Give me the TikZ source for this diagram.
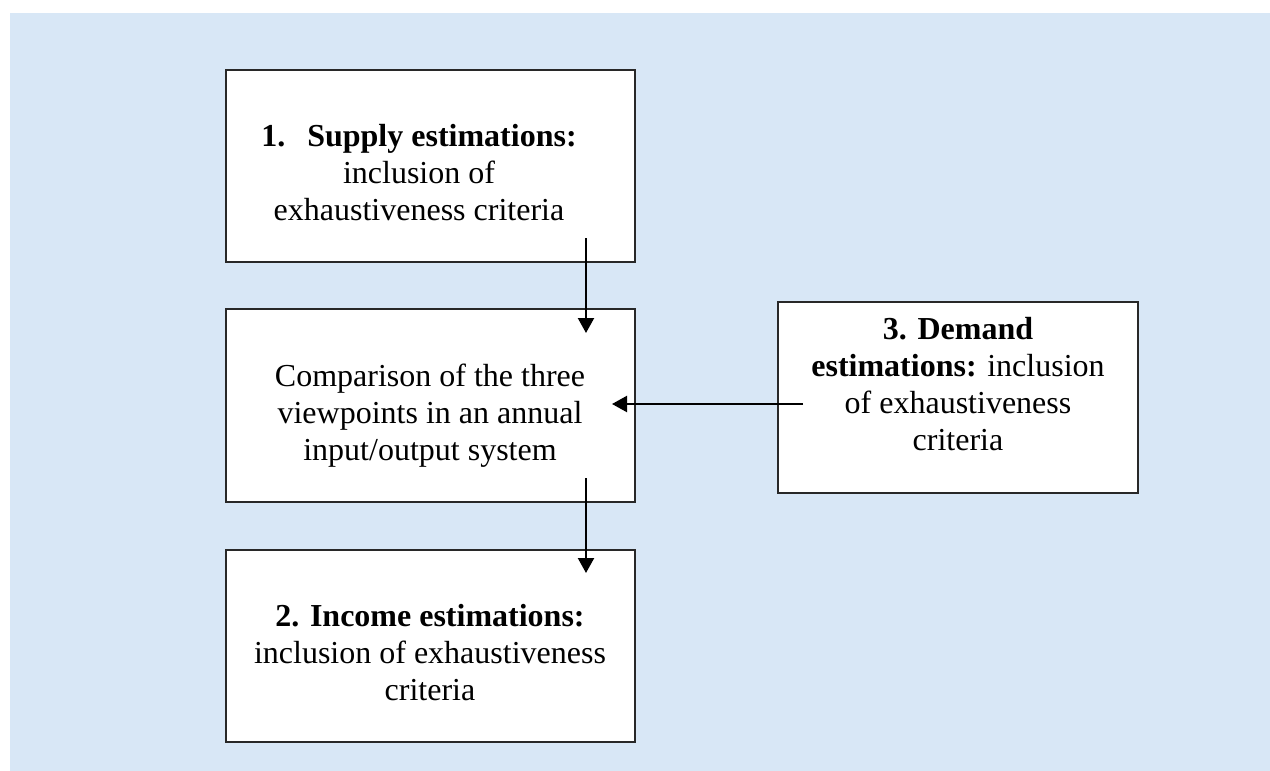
\documentclass[tikz,border=0pt]{standalone}
\usepackage{fontspec}
\setmainfont{Liberation Serif}
\usetikzlibrary{arrows.meta}
\definecolor{bgblue}{RGB}{216,231,246}
\definecolor{boxline}{RGB}{40,40,40}
\tikzset{
  box/.style={draw=boxline, line width=1.5pt, fill=white, inner sep=0pt},
  txt/.style={align=center, inner sep=0pt, anchor=base, font=\fontsize{32}{36.8}\selectfont},
  flow/.style={line width=2.2pt, -{Triangle[length=15pt,width=16pt]}}
}
\begin{document}
\begin{tikzpicture}[x=1pt,y=-1pt]
\useasboundingbox (0,0) rectangle (1270,771);
\fill[bgblue] (10,13) rectangle (1270,771);
% boxes
\node[box, minimum width=409pt, minimum height=192pt] (supply) at (430.5,166) {};
\node[box, minimum width=409pt, minimum height=193pt] (comp) at (430.5,405.5) {};
\node[box, minimum width=360pt, minimum height=191pt] (demand) at (958,397.5) {};
\node[box, minimum width=409pt, minimum height=192pt] (income) at (430.5,646) {};
% texts (anchored at the baseline of the last line)
\node[txt] (supplyt) at (419,220) {\textbf{1.\hspace{22pt}Supply estimations:}\\inclusion of\\exhaustiveness criteria};
\node[txt] (compt) at (430,460) {Comparison of the three\\viewpoints in an annual\\input/output system};
\node[txt] (demandt) at (958,450) {\textbf{3. Demand}\\\textbf{estimations:} inclusion\\of exhaustiveness\\criteria};
\node[txt] (incomet) at (430,700) {\textbf{2. Income estimations:}\\inclusion of exhaustiveness\\criteria};
% connector ends
\coordinate (a1s) at (586,238);
\coordinate (a1e) at (586,333);
\coordinate (a2s) at (803,404);
\coordinate (a2e) at (612,404);
\coordinate (a3s) at (586,478);
\coordinate (a3e) at (586,573);
\draw[flow] (a1s) -- (a1e);
\draw[flow] (a2s) -- (a2e);
\draw[flow] (a3s) -- (a3e);
\end{tikzpicture}
\end{document}
